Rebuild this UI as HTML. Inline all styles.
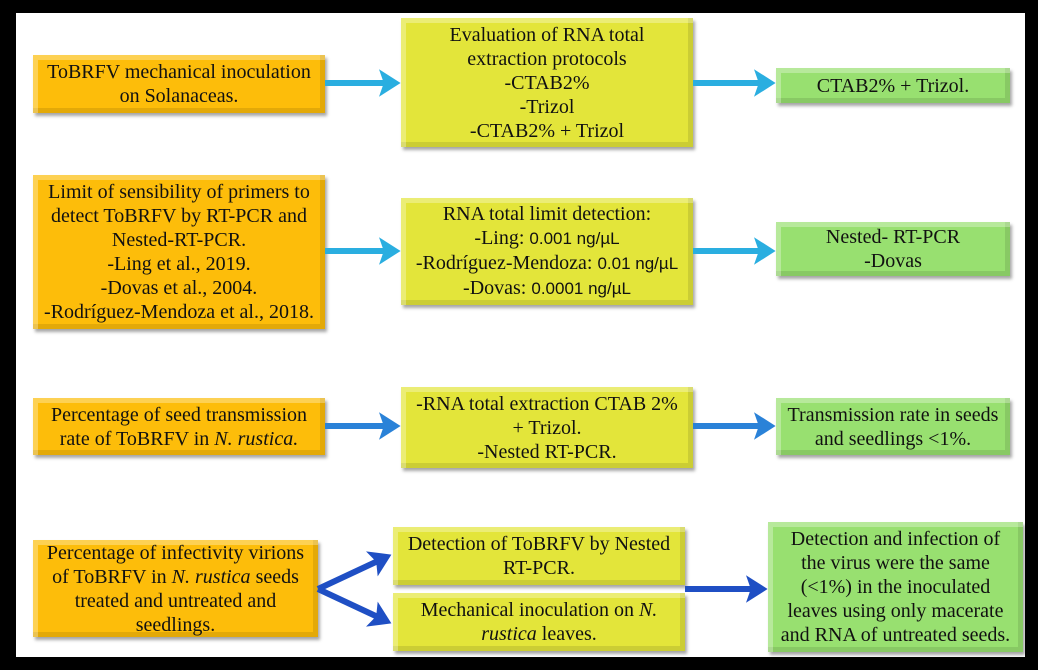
<!DOCTYPE html>
<html><head><meta charset="utf-8"><style>
html,body{margin:0;padding:0;}
body{width:1038px;height:670px;background:#000;position:relative;overflow:hidden;font-family:"Liberation Serif",serif;}
#w{position:absolute;left:16px;top:13px;width:1009px;height:644px;background:#fff;}
.b{position:absolute;box-sizing:border-box;display:flex;align-items:center;justify-content:center;text-align:center;font-size:20px;line-height:24px;color:#111;white-space:nowrap;
box-shadow:inset 5px 5px 0 rgba(255,255,255,.3),inset -5px -5px 0 rgba(0,0,0,.1),2px 3px 3px rgba(0,0,0,.35);}
.o{background:#fdbd0a;}
.y{background:#e3e53a;}
.g{background:#98e070;}
.s{font-family:"Liberation Sans",sans-serif;font-size:17px;}
svg{position:absolute;left:0;top:0;}
</style></head><body>
<div id="w"></div>
<div class="b o" style="left:33px;top:55px;width:292px;height:58px">ToBRFV mechanical inoculation<br>on Solanaceas.</div>
<div class="b y" style="left:401px;top:18px;width:292px;height:129px">Evaluation of RNA total<br>extraction protocols<br>-CTAB2%<br>-Trizol<br>-CTAB2% + Trizol</div>
<div class="b g" style="left:776px;top:68px;width:234px;height:35px">CTAB2% + Trizol.</div>

<div class="b o" style="left:33px;top:175px;width:292px;height:154px">Limit of sensibility of primers to<br>detect ToBRFV by RT-PCR and<br>Nested-RT-PCR.<br>-Ling et al., 2019.<br>-Dovas et al., 2004.<br>-Rodríguez-Mendoza et al., 2018.</div>
<div class="b y" style="left:401px;top:198px;width:292px;height:107px"><div>RNA total limit detection:<br>-Ling: <span class="s">0.001 ng/µL</span><br>-Rodríguez-Mendoza: <span class="s">0.01 ng/µL</span><br>-Dovas: <span class="s">0.0001 ng/µL</span></div></div>
<div class="b g" style="left:776px;top:222px;width:234px;height:54px">Nested- RT-PCR<br>-Dovas</div>

<div class="b o" style="left:33px;top:398px;width:292px;height:57px"><div>Percentage of seed transmission<br>rate of ToBRFV in <i>N. rustica.</i></div></div>
<div class="b y" style="left:401px;top:387px;width:292px;height:81px">-RNA total extraction CTAB 2%<br>+ Trizol.<br>-Nested RT-PCR.</div>
<div class="b g" style="left:776px;top:398px;width:234px;height:57px">Transmission rate in seeds<br>and seedlings &lt;1%.</div>

<div class="b o" style="left:33px;top:540px;width:285px;height:97px"><div>Percentage of infectivity virions<br>of ToBRFV in <i>N. rustica</i> seeds<br>treated and untreated and<br>seedlings.</div></div>
<div class="b y" style="left:393px;top:527px;width:292px;height:58px">Detection of ToBRFV by Nested<br>RT-PCR.</div>
<div class="b y" style="left:393px;top:593px;width:292px;height:58px"><div>Mechanical inoculation on <i>N.</i><br><i>rustica</i> leaves.</div></div>
<div class="b g" style="left:768px;top:522px;width:255px;height:130px">Detection and infection of<br>the virus were the same<br>(&lt;1%) in the inoculated<br>leaves using only macerate<br>and RNA of untreated seeds.</div>

<svg width="1038" height="670">
<defs>
<marker id="c" markerWidth="5" markerHeight="5" refX="1.5" refY="2.5" orient="auto" markerUnits="strokeWidth"><path d="M0,0.2 L3.6,2.5 L0,4.8 L0.8,2.5 Z" fill="#2aaee0"/></marker>
<marker id="m" markerWidth="5" markerHeight="5" refX="1.5" refY="2.5" orient="auto" markerUnits="strokeWidth"><path d="M0,0.2 L3.6,2.5 L0,4.8 L0.8,2.5 Z" fill="#2a82d8"/></marker>
<marker id="d" markerWidth="5" markerHeight="5" refX="1.5" refY="2.5" orient="auto" markerUnits="strokeWidth"><path d="M0,0.2 L3.6,2.5 L0,4.8 L0.8,2.5 Z" fill="#1f4fc4"/></marker>
</defs>
<g stroke-width="6" fill="none">
<line x1="325" y1="83" x2="388" y2="83" stroke="#2aaee0" marker-end="url(#c)"/>
<line x1="693" y1="83" x2="763" y2="83" stroke="#2aaee0" marker-end="url(#c)"/>
<line x1="325" y1="251" x2="388" y2="251" stroke="#2aaee0" marker-end="url(#c)"/>
<line x1="693" y1="251" x2="763" y2="251" stroke="#2aaee0" marker-end="url(#c)"/>
<line x1="325" y1="426" x2="388" y2="426" stroke="#2a82d8" marker-end="url(#m)"/>
<line x1="693" y1="426" x2="763" y2="426" stroke="#2a82d8" marker-end="url(#m)"/>
<line x1="318" y1="589" x2="380" y2="560" stroke="#1f4fc4" marker-end="url(#d)"/>
<line x1="318" y1="589" x2="380" y2="618" stroke="#1f4fc4" marker-end="url(#d)"/>
<line x1="685" y1="589" x2="755" y2="589" stroke="#1f4fc4" marker-end="url(#d)"/>
</g>
</svg>
</body></html>
